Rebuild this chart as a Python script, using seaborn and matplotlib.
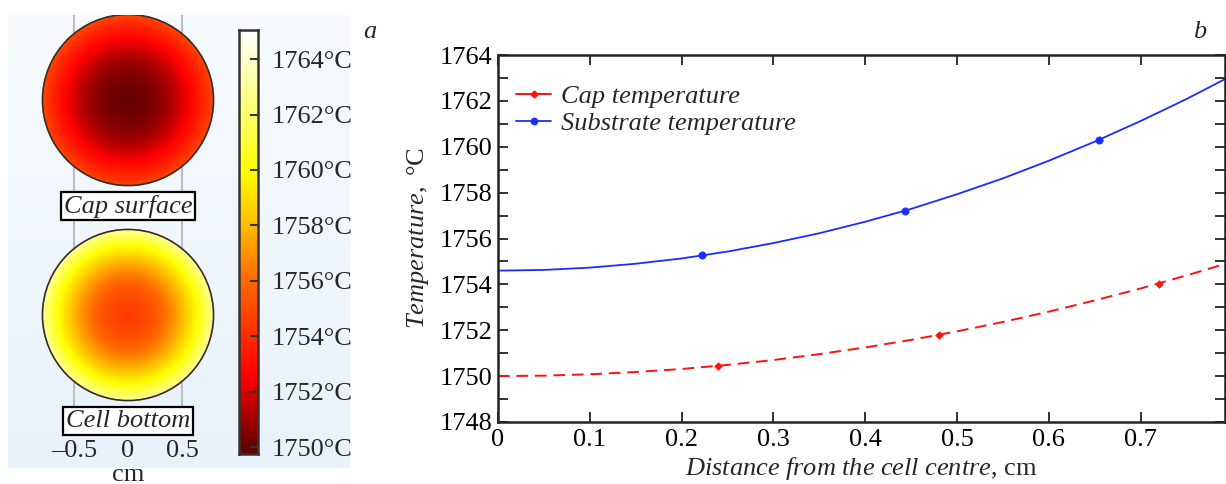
import numpy as np
import pandas as pd
import matplotlib
matplotlib.use("Agg")
import matplotlib.pyplot as plt
import seaborn as sns
from matplotlib.colors import LinearSegmentedColormap
from matplotlib.lines import Line2D
from matplotlib.patches import Circle

# ---------------- data ----------------
dist = [0.0, 0.05, 0.10, 0.15, 0.20, 0.25, 0.30, 0.35, 0.40, 0.45,
        0.50, 0.55, 0.60, 0.65, 0.70, 0.75, 0.792]
cap_temp = [1750.00, 1750.02, 1750.08, 1750.18, 1750.31, 1750.49, 1750.70,
            1750.96, 1751.25, 1751.58, 1751.95, 1752.36, 1752.81, 1753.30,
            1753.82, 1754.39, 1754.89]
sub_temp = [1754.60, 1754.63, 1754.73, 1754.90, 1755.13, 1755.43, 1755.80,
            1756.23, 1756.73, 1757.29, 1757.93, 1758.62, 1759.39, 1760.22,
            1761.12, 1762.08, 1762.95]
cap_mark_x = [0.240, 0.480, 0.720]
cap_mark_y = [1750.45, 1751.80, 1754.02]
sub_mark_x = [0.222, 0.443, 0.655]
sub_mark_y = [1755.28, 1757.20, 1760.30]
x_ticks = [0, 0.1, 0.2, 0.3, 0.4, 0.5, 0.6, 0.7]
x_ticklabels = ["0", "0.1", "0.2", "0.3", "0.4", "0.5", "0.6", "0.7"]
y_ticks = [1748, 1750, 1752, 1754, 1756, 1758, 1760, 1762, 1764]
cbar_ticks = [1750, 1752, 1754, 1756, 1758, 1760, 1762, 1764]
disk_ticks = [-0.5, 0, 0.5]
disk_ticklabels = ["\u20130.5", "0", "0.5"]
series_names = ["Cap temperature", "Substrate temperature"]
disk_names = ["Cap surface", "Cell bottom"]

# ---------------- style ----------------
sns.set_style("ticks")
plt.rcParams["font.family"] = ["Liberation Serif", "DejaVu Serif"]
plt.rcParams["mathtext.fontset"] = "custom"
plt.rcParams["mathtext.rm"] = "Liberation Serif"
plt.rcParams["mathtext.it"] = "Liberation Serif:italic"
FS = 19

W, H = 1226, 484
fig = plt.figure(figsize=(W / 100, H / 100), dpi=100)
fig.patch.set_facecolor("white")

def px_rect(x0, y0, x1, y1):
    return [x0 / W, 1 - y1 / H, (x1 - x0) / W, (y1 - y0) / H]

# ---------------- panel a background ----------------
bg = fig.add_axes(px_rect(8, 15, 350, 468))
bg.set_axis_off()
grad = np.linspace(0, 1, 100)[:, None]
bg.imshow(grad, aspect="auto", extent=[0, 1, 0, 1],
          cmap=LinearSegmentedColormap.from_list("bgc", ["#e9f2fa", "#f7fbfe"]),
          origin="lower", zorder=0)
bg.set_xlim(0, 1)
bg.set_ylim(0, 1)

# colormap
vmin, vmax = 1749.75, 1765.05
anchors = [(1749.75, "#5c0000"), (1751.0, "#a00000"), (1752.5, "#ff0000"),
           (1754.0, "#ff2c00"), (1756.0, "#ff6a00"), (1758.0, "#ffbc00"),
           (1760.0, "#ffff00"), (1762.0, "#ffff6a"), (1764.0, "#ffffc8"),
           (1765.05, "#ffffff")]
cmap = LinearSegmentedColormap.from_list(
    "tc", [((v - vmin) / (vmax - vmin), c) for v, c in anchors])

# disks axes: x -1..1 cm over px 20..236 (108 px/cm)
ppc = 108.0
ax_d = fig.add_axes(px_rect(20, 15, 236, 440))
ax_d.set_facecolor("none")
top_y = 85 / ppc
ylo = top_y - 425 / ppc
R = 0.792
centers = [0.0, -215 / ppc]
for xg in disk_ticks[::2]:
    ax_d.plot([xg, xg], [top_y, centers[1] - 0.85], color="#b0b4b8", lw=1.2, zorder=1)

g = np.linspace(-R, R, 400)
GX, GY = np.meshgrid(g, g)
RR = np.sqrt(GX ** 2 + GY ** 2)
for cy, prof, name in zip(centers, [cap_temp, sub_temp], disk_names):
    T = np.interp(RR, dist, prof)
    T = np.ma.masked_where(RR > R, T)
    ax_d.imshow(T, extent=[-R, R, cy - R, cy + R], origin="lower", cmap=cmap,
                vmin=vmin, vmax=vmax, zorder=2, interpolation="bilinear")
    ax_d.add_patch(Circle((0, cy), R, fill=False, ec="#3a2a2a", lw=1.2, zorder=3))
    ax_d.text(0, cy - R - 0.19, name, ha="center", va="center", fontsize=FS,
              style="italic", zorder=4,
              bbox=dict(boxstyle="square,pad=0.1", fc="white", ec="black", lw=1.6))
ax_d.set_aspect("equal", adjustable="datalim")
ax_d.set_xlim(-1, 1)
ax_d.set_ylim(ylo, top_y)
for s in ax_d.spines.values():
    s.set_visible(False)
ax_d.set_yticks([])
ax_d.set_xticks(disk_ticks)
ax_d.set_xticklabels(disk_ticklabels, fontsize=FS)
ax_d.tick_params(axis="x", length=0, pad=0)
fig.text(128 / W, 1 - 475 / H, "cm", fontsize=FS, ha="center", va="center")

# colorbar
cax = fig.add_axes(px_rect(239, 30, 258, 454))
cb_vals = np.linspace(vmin, vmax, 300)[:, None]
cax.imshow(cb_vals, aspect="auto", origin="lower", cmap=cmap, vmin=vmin, vmax=vmax,
           extent=[0, 1, vmin, vmax])
cax.set_xlim(0, 1)
cax.set_ylim(vmin, vmax)
cax.set_xticks([])
cax.yaxis.tick_right()
cax.set_yticks(cbar_ticks)
cax.set_yticklabels([f"{t}\u00b0C" for t in cbar_ticks], fontsize=FS)
cax.tick_params(axis="y", direction="in", length=6, width=1.5, color="#333333", pad=10)
for s in cax.spines.values():
    s.set_linewidth(1.8)
    s.set_color("#333333")

fig.text(370 / W, 1 - 32 / H, "a", fontsize=FS, style="italic", ha="center", va="center")

# ---------------- panel b ----------------
ax = fig.add_axes(px_rect(498, 55, 1225, 422))
df = pd.DataFrame({"d": dist, "cap": cap_temp, "sub": sub_temp})
sns.lineplot(data=df, x="d", y="sub", ax=ax, color="#1a2cff", lw=1.3)
sns.lineplot(data=df, x="d", y="cap", ax=ax, color="#ff1010", lw=1.4,
             linestyle=(0, (6, 3.5)))
sns.scatterplot(x=sub_mark_x, y=sub_mark_y, ax=ax, color="#1a2cff", marker="o",
                s=28, edgecolor="#1a2cff", zorder=5)
sns.scatterplot(x=cap_mark_x, y=cap_mark_y, ax=ax, color="#ff1010", marker="D",
                s=16, edgecolor="#ff1010", zorder=5)
ax.set_xlim(0, 0.792)
ax.set_ylim(1748, 1764)
ax.set_xticks(x_ticks)
ax.set_xticklabels(x_ticklabels, fontsize=FS)
ax.set_yticks(y_ticks)
ax.set_yticklabels([str(t) for t in y_ticks], fontsize=FS)
ax.set_yticks(np.arange(1749, 1764, 2), minor=True)
ax.tick_params(which="both", direction="in", length=7, width=1.3, top=True,
               right=True, colors="#222222", labelcolor="black")
ax.tick_params(axis="x", pad=5)
ax.tick_params(axis="y", pad=4)
for s in ax.spines.values():
    s.set_linewidth(1.8)
    s.set_color("#222222")
ax.set_xlabel(r"$\mathit{Distance\ from\ the\ cell\ centre}$, cm", fontsize=FS, labelpad=3)
ax.set_ylabel(r"$\mathit{Temperature,}$ $\degree$C", fontsize=FS, labelpad=6)
handles = [Line2D([], [], color="#ff1010", lw=1.4, marker="D", ms=3.5),
           Line2D([], [], color="#1a2cff", lw=1.3, marker="o", ms=4.5)]
ax.legend(handles, series_names, loc="upper left", frameon=False,
          prop={"size": FS, "style": "italic"}, handlelength=1.3,
          handletextpad=0.4, labelspacing=0.15, borderaxespad=0.3,
          bbox_to_anchor=(0.0, 0.97))
fig.text(1200 / W, 1 - 32 / H, "b", fontsize=FS, style="italic", ha="center", va="center")

fig.savefig("out.png", dpi=100)
